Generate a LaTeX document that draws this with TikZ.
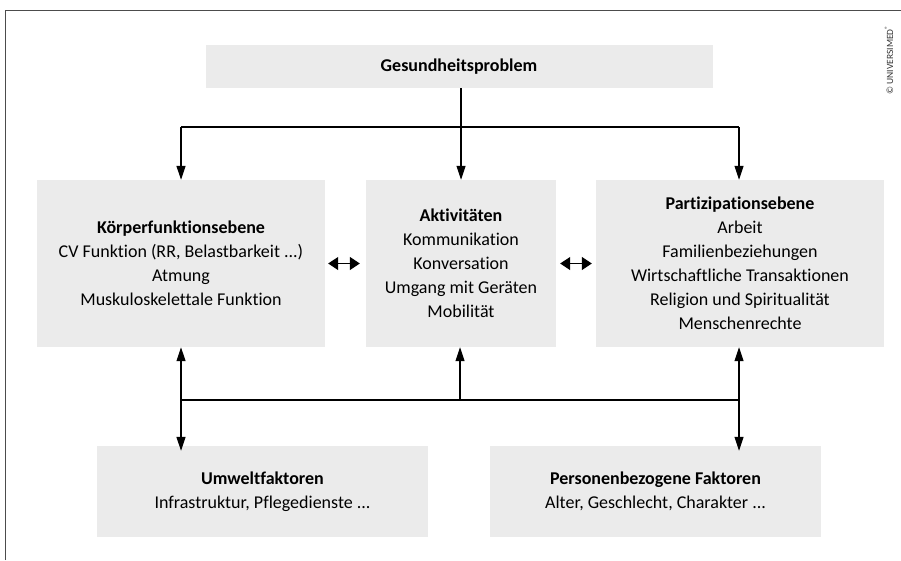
\documentclass[tikz,border=0pt]{standalone}
\usepackage{fontspec}
\setmainfont[Ligatures=NoCommon]{Carlito}
\usetikzlibrary{arrows.meta}
\begin{document}
\begin{tikzpicture}[x=1pt,y=-1pt,
  box/.style={fill=boxgray, inner sep=0pt, align=center, font=\fontsize{18}{24}\selectfont},
  conn/.style={line width=1.1pt, black},
  arr/.style={conn, -{Triangle[length=14pt,width=9pt]}},
  darr/.style={conn, {Triangle[length=10pt,width=13pt]}-{Triangle[length=10pt,width=13pt]}}]
\definecolor{boxgray}{HTML}{EBEBEB}
\useasboundingbox (0,0) rectangle (901,560);
\fill[white] (0,0) rectangle (901,560);
\draw[line width=0.9pt, black!70] (5,560) -- (5,10.5) -- (901,10.5);
% nodes
\node[box, minimum width=507pt, minimum height=43pt] (gp) at (459,66.5) {\textbf{Gesundheitsproblem}};
\node[box, minimum width=288pt, minimum height=167pt] (kf) at (181,263.5)
  {\textbf{Körperfunktionsebene}\\CV Funktion (RR, Belastbarkeit ...)\\Atmung\\Muskuloskelettale Funktion};
\node[box, minimum width=190pt, minimum height=167pt] (ak) at (461,263.5)
  {\textbf{Aktivitäten}\\Kommunikation\\Konversation\\Umgang mit Geräten\\Mobilität};
\node[box, minimum width=288pt, minimum height=167pt] (pe) at (740,263.5)
  {\textbf{Partizipationsebene}\\Arbeit\\Familienbeziehungen\\Wirtschaftliche Transaktionen\\Religion und Spiritualität\\Menschenrechte};
\node[box, minimum width=331pt, minimum height=91pt] (uw) at (262.5,491.5)
  {\textbf{Umweltfaktoren}\\Infrastruktur, Pflegedienste ...};
\node[box, minimum width=331pt, minimum height=91pt] (pb) at (655.5,491.5)
  {\textbf{Personenbezogene Faktoren}\\Alter, Geschlecht, Charakter ...};
\node[rotate=90, font=\fontsize{9.5}{10}\selectfont, text=black!80, inner sep=0pt] (cr) at (889,60) {© UNIVERSIMED\textsuperscript{®}};
% top bus
\coordinate (tl) at (181,127);
\coordinate (tr) at (739,127);
\draw[conn] (tl) -- (tr);
\draw[arr] (ak.north |- gp.south) -- (ak.north);
\draw[arr] (tl) -- (tl |- kf.north);
\draw[arr] (tr) -- (tr |- pe.north);
% double arrows
\draw[darr] ([xshift=3pt]kf.east) -- ([xshift=-6pt]ak.west);
\draw[darr] ([xshift=4pt]ak.east) -- ([xshift=-4pt]pe.west);
% bottom bus
\coordinate (bl) at (181,400);
\coordinate (bm) at (460,400);
\coordinate (br) at (739,400);
\draw[conn] (bl) -- (br);
\draw[arr] (bl) -- (bl |- kf.south);
\draw[arr] (bm) -- (bm |- ak.south);
\draw[arr] (br) -- (br |- pe.south);
\draw[arr] (bl) -- ([yshift=-5pt]bl |- uw.north);
\draw[arr] (br) -- ([yshift=-5pt]br |- pb.north);
\end{tikzpicture}
\end{document}
